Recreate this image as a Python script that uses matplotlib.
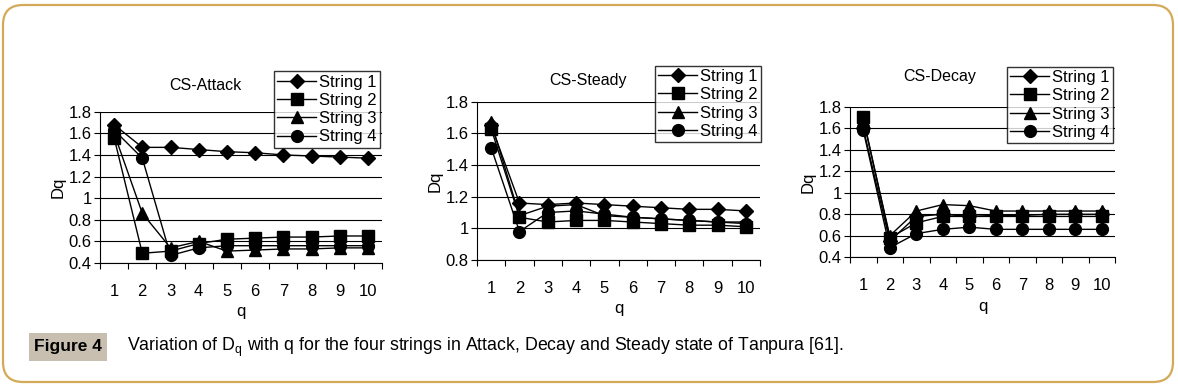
import numpy as np
import matplotlib
matplotlib.use("Agg")
import matplotlib.pyplot as plt
from matplotlib.patches import FancyBboxPatch, Rectangle

plt.rcParams['font.family'] = ['Liberation Sans', 'DejaVu Sans']

q = [1, 2, 3, 4, 5, 6, 7, 8, 9, 10]
names = ["String 1", "String 2", "String 3", "String 4"]
markers = ["D", "s", "^", "o"]

attack_s1 = [1.68, 1.47, 1.47, 1.45, 1.43, 1.42, 1.40, 1.39, 1.38, 1.37]
attack_s2 = [1.56, 0.49, 0.51, 0.58, 0.62, 0.63, 0.64, 0.64, 0.65, 0.65]
attack_s3 = [1.60, 0.86, 0.54, 0.60, 0.51, 0.52, 0.53, 0.53, 0.54, 0.54]
attack_s4 = [1.63, 1.37, 0.47, 0.54, 0.56, 0.56, 0.56, 0.56, 0.56, 0.56]

steady_s1 = [1.65, 1.16, 1.15, 1.16, 1.15, 1.14, 1.13, 1.12, 1.12, 1.11]
steady_s2 = [1.63, 1.07, 1.04, 1.05, 1.05, 1.04, 1.03, 1.02, 1.02, 1.01]
steady_s3 = [1.67, 1.08, 1.14, 1.15, 1.08, 1.07, 1.06, 1.05, 1.04, 1.04]
steady_s4 = [1.51, 0.98, 1.10, 1.11, 1.09, 1.07, 1.06, 1.05, 1.04, 1.03]

decay_s1 = [1.60, 0.55, 0.78, 0.80, 0.78, 0.79, 0.79, 0.80, 0.80, 0.80]
decay_s2 = [1.70, 0.58, 0.72, 0.78, 0.78, 0.78, 0.78, 0.78, 0.78, 0.78]
decay_s3 = [1.68, 0.60, 0.83, 0.89, 0.88, 0.83, 0.83, 0.83, 0.83, 0.83]
decay_s4 = [1.58, 0.49, 0.62, 0.66, 0.68, 0.66, 0.66, 0.66, 0.66, 0.66]

# title pos, axes box (l, r, top, bottom) and legend box in pixels
panels = [
    ("CS-Attack", [attack_s1, attack_s2, attack_s3, attack_s4], 0.4, 1.8,
     (205, 85), [100, 382, 111.7, 263], (275, 72, 104, 75)),
    ("CS-Steady", [steady_s1, steady_s2, steady_s3, steady_s4], 0.8, 1.8,
     (588, 81), [477, 760, 101.7, 260], (655, 63, 106, 82)),
    ("CS-Decay", [decay_s1, decay_s2, decay_s3, decay_s4], 0.4, 1.8,
     (940, 77), [850, 1115, 106.7, 257.3], (1006, 63, 108, 84)),
]

W, H = 1178, 387
fs = 12
fig = plt.figure(figsize=(W / 100, H / 100), dpi=100)

# rounded frame (pixel coordinates)
frame = FancyBboxPatch((3, 5), 1170, 377,
                       boxstyle="round,pad=0,rounding_size=20",
                       transform=None, fill=False,
                       edgecolor="#d4a957", linewidth=1.6)
fig.patches.append(frame)

for title, series, ymin, ymax, tpos, box, lbox in panels:
    l, r, t, b = box
    ax = fig.add_axes([l / W, 1 - b / H, (r - l) / W, (b - t) / H])
    for vals, name, m in zip(series, names, markers):
        ms = 7 if m == "D" else 8.5
        ax.plot(q, vals, color="black", marker=m, markersize=ms, linewidth=1.0,
                label=name, clip_on=False)
    ax.set_xlim(0.5, 10.5)
    ax.set_ylim(ymin, ymax)
    yt = np.round(np.arange(ymin, ymax + 0.001, 0.2), 1)
    ax.set_yticks(yt)
    ax.set_yticklabels(["1" if v == 1 else f"{v:.1f}" for v in yt], fontsize=fs)
    ax.set_xticks(np.arange(0.5, 11, 1))
    ax.set_xticklabels([])
    ax.set_xticks(q, minor=True)
    ax.set_xticklabels([str(v) for v in q], minor=True, fontsize=fs)
    ax.tick_params(axis="x", which="minor", length=0, pad=15)
    ax.tick_params(axis="x", which="major", length=4, direction="out")
    ax.tick_params(axis="y", length=4, direction="out", pad=2)
    ax.yaxis.grid(True, color="black", linewidth=0.8)
    ax.set_axisbelow(True)
    for s in ["top", "right"]:
        ax.spines[s].set_visible(False)
    ax.set_xlabel("q", fontsize=fs, labelpad=4)
    ax.set_ylabel("Dq", fontsize=fs, labelpad=2)
    fig.text(tpos[0] / W, 1 - tpos[1] / H, title, fontsize=fs - 0.5,
             ha="center", va="center")
    lx, ly, lw, lh = lbox
    leg = ax.legend(loc="center", fontsize=fs,
                    bbox_to_anchor=((lx + lw / 2) / W, 1 - (ly + lh / 2) / H),
                    bbox_transform=fig.transFigure,
                    frameon=True, fancybox=False, edgecolor="black",
                    handlelength=2.3, handletextpad=0.2, borderpad=0.2,
                    labelspacing=0.2, borderaxespad=0)
    leg.get_frame().set_linewidth(1.0)

# caption
fig.patches.append(Rectangle((29 / W, 1 - 361 / H), 78 / W, 28 / H,
                             transform=fig.transFigure, facecolor="#c8bfb0",
                             edgecolor="none"))
plt.rcParams['mathtext.fontset'] = 'custom'
plt.rcParams['mathtext.rm'] = 'Liberation Sans'
fig.text(68 / W, 1 - 347 / H, "Figure 4", fontsize=12.5, fontweight="bold",
         ha="center", va="center")
fig.text(127 / W, 1 - 347 / H,
         r"Variation of D$_\mathrm{q}$ with q for the four strings in Attack, Decay and Steady state of Tanpura [61].",
         fontsize=12.8, ha="left", va="center")

fig.savefig("out.png", dpi=100)
